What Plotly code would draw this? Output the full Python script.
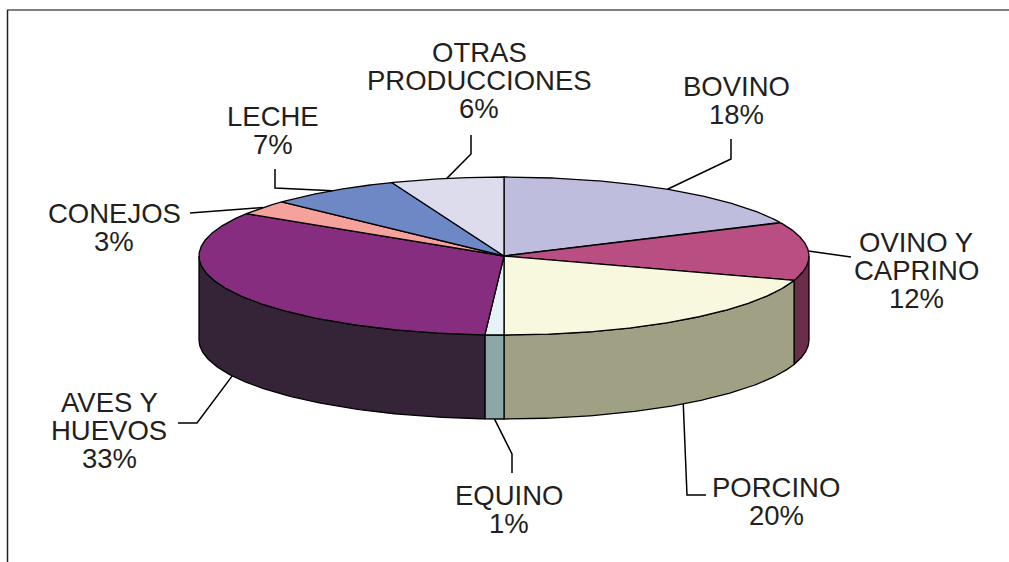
import numpy as np
import plotly.graph_objects as go

# --- data -----------------------------------------------------------------
categories = ["BOVINO", "OVINO Y CAPRINO", "PORCINO", "EQUINO",
              "AVES Y HUEVOS", "CONEJOS", "LECHE", "OTRAS PRODUCCIONES"]
values = [18, 12, 20, 1, 33, 3, 7, 6]
label_lines = [["BOVINO", "18%"],
               ["OVINO Y", "CAPRINO", "12%"],
               ["PORCINO", "20%"],
               ["EQUINO", "1%"],
               ["AVES Y", "HUEVOS", "33%"],
               ["CONEJOS", "3%"],
               ["LECHE", "7%"],
               ["OTRAS", "PRODUCCIONES", "6%"]]

# --- styles ---------------------------------------------------------------
top_colors = ["#BFBDDE", "#B94E83", "#F8F8DF", "#E6F3F6",
              "#862D7F", "#F4A29B", "#6E87C5", "#DCDCEC"]
side_colors = ["#8F8DA6", "#6A2D4A", "#A0A084", "#8DA6A6",
               "#352437", "#B7796F", "#4F6395", "#A5A5B1"]

W, H = 1009, 562
CX, CY = 504, 256          # centre of the top face
RX, RY = 305, 79           # radii of the top ellipse
DEPTH = 84                 # thickness of the disc
FONT = dict(family="Liberation Sans, Arial, sans-serif", size=27.5, color="#231F20")
LINE_H = 28.2

# label placement: (centre x, baseline of first line, leader elbow points)
label_layout = [
    (736, 96,  [(731, 159), (731, 139)]),
    (916, 252, [(851, 257)]),
    (776, 497, [(687, 495), (706, 495)]),
    (509, 505, [(512, 454), (512, 473)]),
    (109, 412, [(197, 423), (178, 423)]),
    (114, 223, [(190, 213)]),
    (273, 126, [(275, 188), (275, 169)]),
    (479, 62,  [(471, 154), (471, 135)]),
]


def ell(theta_deg, dy=0.0):
    t = np.radians(theta_deg)
    return CX + RX * np.sin(t), CY - RY * np.cos(t) + dy


fig = go.Figure()
outline = dict(color="black", width=1.3)

total = float(sum(values))
bounds = np.concatenate([[0.0], np.cumsum(values) / total * 360.0])

# side walls (only the front half of the disc is visible)
for i in range(len(values)):
    a, b = max(bounds[i], 90.0), min(bounds[i + 1], 270.0)
    if b <= a:
        continue
    ts = np.linspace(a, b, 120)
    xt, yt = ell(ts)
    xb, yb = ell(ts[::-1], DEPTH)
    xs = np.concatenate([xt, xb, xt[:1]])
    ys = np.concatenate([yt, yb, yt[:1]])
    fig.add_trace(go.Scatter(x=xs, y=ys, mode="lines", fill="toself",
                             fillcolor=side_colors[i], line=outline,
                             hoverinfo="skip", showlegend=False))

# top faces
for i in range(len(values)):
    ts = np.linspace(bounds[i], bounds[i + 1], 200)
    xa, ya = ell(ts)
    xs = np.concatenate([[CX], xa, [CX]])
    ys = np.concatenate([[CY], ya, [CY]])
    fig.add_trace(go.Scatter(x=xs, y=ys, mode="lines", fill="toself",
                             fillcolor=top_colors[i], line=outline,
                             hoverinfo="skip", showlegend=False,
                             name=categories[i]))

# leader lines and labels
for i in range(len(values)):
    mid = (bounds[i] + bounds[i + 1]) / 2.0
    front = 90.0 < mid < 270.0
    px, py = ell(mid, DEPTH if front else 0.0)
    cx, base, elbow = label_layout[i]
    lx = [px] + [p[0] for p in elbow]
    ly = [py] + [p[1] for p in elbow]
    fig.add_trace(go.Scatter(x=lx, y=ly, mode="lines",
                             line=dict(color="black", width=1.5),
                             hoverinfo="skip", showlegend=False))
    for k, txt in enumerate(label_lines[i]):
        fig.add_annotation(x=cx, y=base + k * LINE_H - 9.5, text=txt,
                           showarrow=False, xanchor="center", yanchor="middle",
                           font=FONT)

# chart frame
fig.add_shape(type="line", x0=7, x1=W, y0=10, y1=10,
              line=dict(color="#808080", width=2))
fig.add_shape(type="line", x0=7.5, x1=7.5, y0=10, y1=H,
              line=dict(color="#222222", width=1.5))

fig.update_layout(
    width=W, height=H,
    margin=dict(l=0, r=0, t=0, b=0),
    paper_bgcolor="white", plot_bgcolor="white",
    xaxis=dict(range=[0, W], visible=False, fixedrange=True),
    yaxis=dict(range=[H, 0], visible=False, fixedrange=True),
    showlegend=False,
)

fig.write_html("out.html")
